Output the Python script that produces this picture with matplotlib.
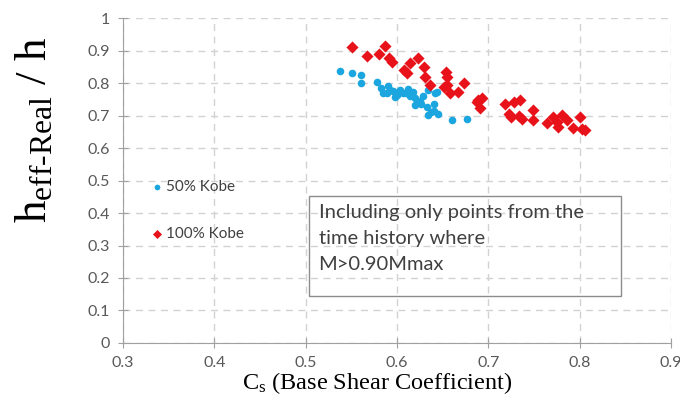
import matplotlib
matplotlib.use("Agg")
import matplotlib.pyplot as plt
from matplotlib.patches import Rectangle

# ---- data ----
kobe50_x = [0.537, 0.551, 0.561, 0.560, 0.578, 0.582, 0.585, 0.589, 0.592, 0.596,
            0.600, 0.603, 0.606, 0.610, 0.612, 0.614, 0.617, 0.620, 0.620, 0.626,
            0.633, 0.637, 0.634, 0.640, 0.642, 0.634, 0.644, 0.660, 0.676, 0.628,
            0.625, 0.598, 0.590, 0.640, 0.645]
kobe50_y = [0.838, 0.830, 0.825, 0.799, 0.804, 0.785, 0.770, 0.768, 0.780, 0.775,
            0.763, 0.778, 0.770, 0.768, 0.782, 0.760, 0.773, 0.755, 0.732, 0.737,
            0.727, 0.712, 0.702, 0.737, 0.768, 0.778, 0.773, 0.686, 0.691, 0.760,
            0.745, 0.758, 0.790, 0.715, 0.705]

kobe100_x = [0.551, 0.567, 0.580, 0.587, 0.591, 0.594, 0.607, 0.611, 0.614, 0.623,
             0.629, 0.631, 0.636, 0.653, 0.655, 0.651, 0.658, 0.667, 0.673, 0.655,
             0.687, 0.693, 0.691, 0.689, 0.718, 0.722, 0.728, 0.725, 0.733, 0.735,
             0.737, 0.749, 0.749, 0.764, 0.771, 0.775, 0.780, 0.786, 0.776, 0.793,
             0.800, 0.802, 0.806]
kobe100_y = [0.912, 0.883, 0.889, 0.914, 0.876, 0.866, 0.840, 0.830, 0.861, 0.876,
             0.850, 0.819, 0.794, 0.835, 0.819, 0.789, 0.768, 0.773, 0.799, 0.794,
             0.742, 0.753, 0.723, 0.748, 0.735, 0.705, 0.742, 0.695, 0.700, 0.748,
             0.691, 0.717, 0.686, 0.676, 0.696, 0.681, 0.702, 0.686, 0.666, 0.661,
             0.696, 0.660, 0.655]

x_ticks = [0.3, 0.4, 0.5, 0.6, 0.7, 0.8, 0.9]
x_tick_labels = ["0.3", "0.4", "0.5", "0.6", "0.7", "0.8", "0.9"]
y_ticks = [0, 0.1, 0.2, 0.3, 0.4, 0.5, 0.6, 0.7, 0.8, 0.9, 1.0]
y_tick_labels = ["0", "0.1", "0.2", "0.3", "0.4", "0.5", "0.6", "0.7", "0.8", "0.9", "1"]

plt.rcParams['mathtext.fontset'] = 'custom'
plt.rcParams['mathtext.rm'] = 'Liberation Serif'
plt.rcParams['mathtext.it'] = 'Liberation Serif:italic'

SANS = 'Lato'

fig = plt.figure(figsize=(6.8, 4.03), dpi=100)
ax = fig.add_axes([0.181, 0.149, 0.806, 0.806])

ax.scatter(kobe50_x, kobe50_y, s=30, marker='o', color='#1BA6E0', zorder=3,
           label='50% Kobe', linewidths=0)
ax.scatter(kobe100_x, kobe100_y, s=38, marker='D', color='#E8131A', zorder=3,
           label='100% Kobe', linewidths=0)

ax.set_xlim(0.3, 0.9)
ax.set_ylim(0, 1.0)
ax.set_xticks(x_ticks)
ax.set_xticklabels(x_tick_labels)
ax.set_yticks(y_ticks)
ax.set_yticklabels(y_tick_labels)

ax.grid(True, color='#D2D2D2', linestyle=(0, (5, 4)), linewidth=1)
ax.set_axisbelow(True)
for s in ['top', 'right']:
    ax.spines[s].set_visible(False)
for s in ['left', 'bottom']:
    ax.spines[s].set_color('#A0A0A0')
ax.tick_params(direction='inout', length=7, color='#A0A0A0', labelcolor='#595959',
               labelsize=11.5)
for lab in ax.get_xticklabels() + ax.get_yticklabels():
    lab.set_family(SANS)
ax.tick_params(axis='x', pad=6)
ax.tick_params(axis='y', pad=6)

leg = ax.legend(loc='upper left', bbox_to_anchor=(0.02, 0.545), frameon=False,
                prop={'family': SANS, 'size': 11}, labelspacing=2.2,
                handletextpad=0.0, markerscale=0.75, handlelength=1.2)
for t in leg.get_texts():
    t.set_color('#404040')

# annotation box
ax.add_patch(Rectangle((0.503, 0.145), 0.342, 0.307, transform=ax.transData,
                       fill=False, edgecolor='#8C8C8C', linewidth=1, zorder=4))
ax.text(0.514, 0.428, "Including only points from the\ntime history where\nM>0.90Mmax",
        family=SANS, fontsize=14.5, color='#404040', va='top', ha='left',
        linespacing=1.65, zorder=5)

ax.set_xlabel(r'$\mathrm{C_s}$ (Base Shear Coefficient)', family='Liberation Serif',
              fontsize=17.5)
ax.xaxis.set_label_coords(0.4635, -0.083)
ax.set_ylabel(r'$\mathrm{h_{\text{eff-Real}}}$ / h', family='Liberation Serif',
              fontsize=32.5)
ax.yaxis.set_label_coords(-0.125, 0.655)

fig.savefig('out.png', dpi=100)
